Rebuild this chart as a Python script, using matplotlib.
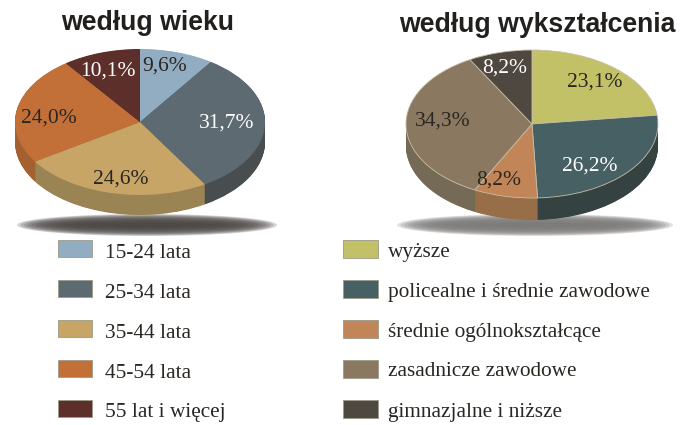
import numpy as np
import matplotlib
matplotlib.use("Agg")
import matplotlib.pyplot as plt
from matplotlib.patches import Ellipse, Rectangle

W, H = 686, 425

# data
age_labels = ["15-24 lata", "25-34 lata", "35-44 lata", "45-54 lata", "55 lat i więcej"]
age_values = [9.6, 31.7, 24.6, 24.0, 10.1]
age_top = ["#92adc1", "#5e6a72", "#c6a566", "#c27038", "#5c2f2a"]
age_side = ["#6f8594", "#484d50", "#9a8454", "#a4602f", "#452320"]
age_text = ["#2a2622", "white", "#2a2622", "#2a2622", "white"]
age_text_pos = [(165, 66), (227, 123), (121, 179), (49, 118), (108, 71)]

edu_labels = ["wyższe", "policealne i średnie zawodowe", "średnie ogólnokształcące",
              "zasadnicze zawodowe", "gimnazjalne i niższe"]
edu_values = [23.1, 26.2, 8.2, 34.3, 8.2]
edu_top = ["#c3c168", "#466063", "#c28557", "#8a7960", "#4f4840"]
edu_side = ["#9a9852", "#354242", "#986e49", "#756a55", "#3d3731"]
edu_text = ["#2a2622", "white", "#2a2622", "#2a2622", "white"]
edu_text_pos = [(595, 82), (590, 166), (499, 180), (443, 121), (505, 68)]


def px_axes(x0, y0, x1, y1):
    # axes placed with pixel box, y measured from the top
    return fig.add_axes([x0 / W, 1 - y1 / H, (x1 - x0) / W, (y1 - y0) / H])


def draw_pie(cx, cy, rx, ry, depth, values, top, side, edge=None):
    ax = px_axes(cx - rx - 2, cy - ry - 2, cx + rx + 2, cy + ry + depth + 2)
    # side wall: same pie repeated downwards
    for d in np.linspace(depth / ry, 0, int(depth * 2), endpoint=False):
        ax.pie(values, colors=side, startangle=90, counterclock=False, center=(0, -d),
               wedgeprops=dict(linewidth=0))
    ax.pie(values, colors=top, startangle=90, counterclock=False,
           wedgeprops=dict(linewidth=0.6 if edge else 0, edgecolor=edge))
    ax.set_aspect("auto")
    ax.set_xlim(-(rx + 2) / rx, (rx + 2) / rx)
    ax.set_ylim(-(ry + depth + 2) / ry, (ry + 2) / ry)


def draw_shadow(ax, cx, cy, rx, ry, color, steps=14):
    for i in range(steps):
        k = 1 - i / steps
        ax.add_patch(Ellipse((cx, cy), 2 * rx * k ** 0.35, 2 * ry * k ** 0.8, facecolor=color,
                             edgecolor="none", alpha=0.22))


fig = plt.figure(figsize=(W / 100, H / 100), dpi=100)
bg = px_axes(0, 0, W, H)
bg.set_xlim(0, W)
bg.set_ylim(H, 0)
bg.axis("off")

draw_shadow(bg, 147, 225, 130, 11, "#4a4644")
draw_shadow(bg, 535, 225, 138, 11, "#7c7a78")

draw_pie(140, 122, 125, 73, 20, age_values, age_top, age_side)
draw_pie(532, 124, 126, 74, 22, edu_values, edu_top, edu_side, edge="#c9bfa6")

fg = px_axes(0, 0, W, H)
fg.set_xlim(0, W)
fg.set_ylim(H, 0)
fg.axis("off")
fg.patch.set_alpha(0)

title_font = dict(family="Liberation Sans", weight="bold", size=19.2, color="#22201e",
                  ha="center", va="center")
fg.text(148, 23, "według wieku", **title_font)
fg.text(537, 25, "według wykształcenia", **title_font)

serif = "Liberation Serif"
for vals, colors, pos in [(age_values, age_text, age_text_pos), (edu_values, edu_text, edu_text_pos)]:
    for v, c, (x, y) in zip(vals, colors, pos):
        fg.text(x, y, f"{v:.1f}%".replace(".", ","), family=serif, size=15.5, color=c,
                ha="center", va="center")

for i in range(5):
    y = 240 + 40 * i
    fg.add_patch(Rectangle((58, y), 34, 17, facecolor=age_top[i], edgecolor="#9a9a88", linewidth=0.6))
    fg.add_patch(Rectangle((343, y), 35, 18, facecolor=edu_top[i], edgecolor="#9a9a88", linewidth=0.6))
    fg.text(105, y + 13, age_labels[i], family=serif, size=15.3, color="#2a2622", va="center")
    fg.text(388, y + 12, edu_labels[i], family=serif, size=15.3, color="#2a2622", va="center")

fig.savefig("out.png", dpi=100)
